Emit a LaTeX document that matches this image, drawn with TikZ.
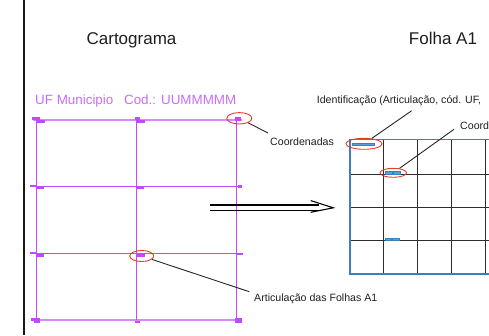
\documentclass[tikz,border=0pt]{standalone}
\usepackage{fontspec}
\setmainfont{Liberation Sans}
\usetikzlibrary{shapes.geometric}
\definecolor{mag}{RGB}{196,72,252}
\definecolor{magtxt}{RGB}{200,110,245}
\definecolor{redc}{RGB}{226,62,40}
\definecolor{bluec}{RGB}{58,128,190}
\definecolor{bluem}{RGB}{90,160,215}
\definecolor{gridk}{RGB}{45,45,45}
\definecolor{txt}{RGB}{30,30,30}
\tikzset{
  lbl/.style={inner sep=0pt, anchor=base west, text=txt},
  ttl/.style={inner sep=0pt, anchor=base, text=txt, font=\fontsize{17}{20}\selectfont},
  small/.style={font=\fontsize{10.6}{12}\selectfont},
  ring/.style={ellipse, draw=redc, line width=0.9pt, inner sep=0pt, fill=none},
  lead/.style={draw=black!85, line width=0.9pt},
  mgrid/.style={draw=mag, line width=1.1pt},
  mgridlt/.style={draw=mag!65, line width=1.8pt},
  mk/.style={fill=mag},
  kgrid/.style={draw=gridk, line width=1.0pt},
  bmk/.style={fill=bluem, draw=bluec, line width=0.3pt}
}
\begin{document}
\begin{tikzpicture}[x=1pt,y=-1pt]
\useasboundingbox (0,0) rectangle (489,335);
\clip (0,0) rectangle (489,335);
% left black rule
\draw[line width=1.8pt, draw=black!90] (23.8,0) -- (23.8,335);
% titles
\node[ttl] (t1) at (131.5,44.5) {Cartograma};
\node[ttl] (t2) at (443,44.8) {Folha A1};
% magenta caption
\node[inner sep=0pt, anchor=base west, text=magtxt, font=\fontsize{13.4}{15}\selectfont] (cap) at (35,104) {UF Municipio\hspace{0.8em}Cod.: UUMMMMM};
% magenta grid
\draw[mgridlt] (33,120) -- (242,120);
\draw[mgridlt] (33,320) -- (242,320);
\draw[mgrid] (32,186.7) -- (242,186.7);
\draw[mgrid] (32,253.7) -- (242,253.7);
\draw[mgrid] (36.5,120) -- (36.5,320);
\draw[mgrid] (136.3,120) -- (136.3,320);
\draw[mgrid] (236.6,120) -- (236.6,320);
% magenta markers
\fill[mk] (32,117) rectangle (40,119.5);
\fill[mk] (37,120) rectangle (45,122.5);
\fill[mk] (135,117) rectangle (140,119.5);
\fill[mk] (137,120) rectangle (145,122.5);
\fill[mk] (235,117) rectangle (241,120.5);
\fill[mk] (30,185) rectangle (36.5,187);
\fill[mk] (36.7,187) rectangle (44.3,189);
\fill[mk] (136.7,187) rectangle (144.3,189);
\fill[mk] (237.7,185) rectangle (242.3,187.5);
\fill[mk] (30,252.3) rectangle (36.5,254.3);
\fill[mk] (36.7,254.3) rectangle (44.3,256.5);
\fill[mk] (137,254.3) rectangle (145,256.5);
\fill[mk] (237,252.5) rectangle (242.7,254.8);
\fill[mk] (31,318) rectangle (40,320.5);
\fill[mk] (34,320.5) rectangle (40,323);
\fill[mk] (135.3,320.5) rectangle (139.5,323);
\fill[mk] (235,318) rectangle (241.7,323);
% red rings on the cartogram
\node[ring, minimum width=25pt, minimum height=11.4pt] (r1) at (239.3,118.3) {};
\node[ring, minimum width=24pt, minimum height=11pt] (r2) at (141.7,256) {};
% labels left
\node[lbl, small] (lcoord) at (270,145) {Coordenadas};
\node[lbl, small] (lart) at (254,301.3) {Articulação das Folhas A1};
\coordinate (c1) at (268,133);
\coordinate (c2) at (249.3,291.7);
\draw[lead] (r1) -- (c1);
\draw[lead] (r2) -- (c2);
% implies arrow
\coordinate (aS) at (210,207.8);
\coordinate (aE) at (333.3,207.8);
\draw[line width=1.1pt] ([yshift=-2.8]aS) -- ([xshift=-14,yshift=-2.8]aE);
\draw[line width=1.1pt] ([yshift=2.8]aS) -- ([xshift=-14,yshift=2.8]aE);
\draw[line width=1.1pt, line join=miter] ([xshift=-22.6,yshift=-4.5]aE) -- (aE) -- ([xshift=-22.6,yshift=7.2]aE);
% right sheet grid
\draw[kgrid] (383.7,139.5) -- (383.7,274);
\draw[kgrid] (417.7,139.5) -- (417.7,274);
\draw[kgrid] (451,139.5) -- (451,274);
\draw[kgrid] (485,139.5) -- (485,274);
\draw[kgrid] (350,174) -- (495,174);
\draw[kgrid] (350,207.3) -- (495,207.3);
\draw[kgrid] (350,240.3) -- (495,240.3);
\draw[draw=bluec, line width=1.5pt] (350,139.5) rectangle (500,274);
% blue marks
\filldraw[bmk] (352,143.5) rectangle (374.5,145.5);
\filldraw[bmk] (385,171.2) rectangle (392,174);
\filldraw[bmk] (393,171.2) rectangle (400,174);
\filldraw[bmk] (385,238.2) rectangle (391.5,240.5);
\filldraw[bmk] (392.5,238.2) rectangle (399.5,240.5);
% red rings on the sheet
\node[ring, minimum width=36pt, minimum height=11pt] (r3) at (364,143.8) {};
\node[ring, minimum width=26.6pt, minimum height=9pt] (r4) at (393.3,172.8) {};
% labels right
\node[lbl, small] (lid) at (316.7,103.3) {Identificação (Articulação, cód. UF,};
\node[lbl, small] (lco2) at (460,129) {Coord};
\coordinate (c3) at (411.7,110.7);
\coordinate (c4) at (454,129.3);
\draw[lead] (r3) -- (c3);
\draw[lead] (r4) -- (c4);
\end{tikzpicture}
\end{document}
